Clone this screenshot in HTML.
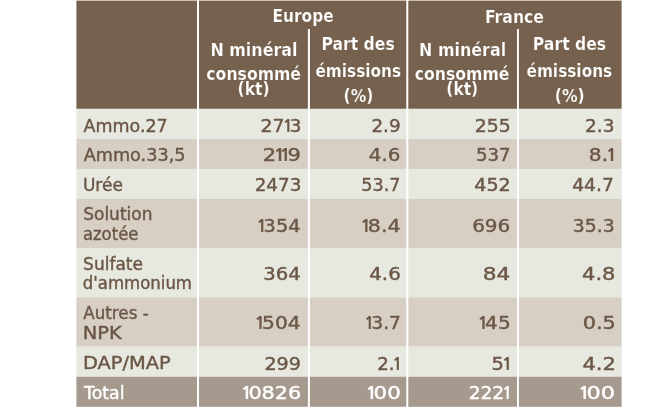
<!DOCTYPE html>
<html lang="fr">
<head>
<meta charset="utf-8">
<title>N minéral consommé et part des émissions</title>
<style>
html,body{margin:0;padding:0;background:#fff;}
body{width:672px;height:410px;overflow:hidden;}
svg{display:block;}
text{font-family:"DejaVu Sans","Liberation Sans",sans-serif;}
.h{font-weight:bold;font-size:17.3px;fill:#fff;stroke:#75614d;stroke-width:0.2px;}
.l,.n{font-size:17.4px;fill:#6b5746;stroke:#6b5746;stroke-width:0.4;}
.n{text-anchor:end;font-size:17.3px;}
.o{font-family:"NanumGothic","DejaVu Sans",sans-serif;font-weight:bold;font-size:17.1px;stroke-width:0.1;}
.w{fill:#fff;stroke:#fff;}
</style>
</head>
<body>
<svg width="672" height="410" viewBox="0 0 672 410">
<rect x="60" y="0.0" width="580" height="410.0" fill="#75614d"/>
<rect x="60" y="108.7" width="580" height="301.3" fill="#e7e8e0"/>
<rect x="60" y="139.0" width="580" height="271.0" fill="#d7cfc3"/>
<rect x="60" y="168.9" width="580" height="241.1" fill="#e7e8e0"/>
<rect x="60" y="198.9" width="580" height="211.1" fill="#d7cfc3"/>
<rect x="60" y="248.1" width="580" height="161.9" fill="#e7e8e0"/>
<rect x="60" y="297.6" width="580" height="112.4" fill="#d7cfc3"/>
<rect x="60" y="346.3" width="580" height="63.7" fill="#e7e8e0"/>
<rect x="60" y="376.8" width="580" height="33.2" fill="#a6998e"/>
<rect x="0" y="0" width="76.4" height="410" fill="#fff"/>
<rect x="621.6" y="0" width="50.4" height="410" fill="#fff"/>
<rect x="0" y="0" width="672" height="0.6" fill="#fff"/>
<rect x="0" y="406.8" width="672" height="3.2" fill="#fff"/>
<rect x="197.0" y="0.0" width="2.0" height="407.0" fill="#fff"/>
<rect x="406.3" y="0.0" width="2.0" height="407.0" fill="#fff"/>
<rect x="307.9" y="29.0" width="2.0" height="378.0" fill="#fff"/>
<rect x="517.0" y="29.0" width="1.9" height="378.0" fill="#fff"/>
<text class="h" x="272.5" y="22.4" textLength="61.2" lengthAdjust="spacingAndGlyphs">Europe</text>
<text class="h" x="484.9" y="22.6" textLength="59.1" lengthAdjust="spacingAndGlyphs">France</text>
<text class="h" x="210.4" y="56.0" textLength="87.1" lengthAdjust="spacingAndGlyphs">N minéral</text>
<text class="h" x="206.3" y="79.6" textLength="94.7" lengthAdjust="spacingAndGlyphs">consommé</text>
<text class="h" x="237.6" y="95.3" textLength="32.1" lengthAdjust="spacingAndGlyphs">(kt)</text>
<text class="h" x="419.1" y="56.0" textLength="87.0" lengthAdjust="spacingAndGlyphs">N minéral</text>
<text class="h" x="414.7" y="79.6" textLength="94.8" lengthAdjust="spacingAndGlyphs">consommé</text>
<text class="h" x="446.3" y="95.3" textLength="31.9" lengthAdjust="spacingAndGlyphs">(kt)</text>
<text class="h" x="321.4" y="49.6" textLength="73.3" lengthAdjust="spacingAndGlyphs">Part des</text>
<text class="h" x="315.4" y="76.6" textLength="85.7" lengthAdjust="spacingAndGlyphs">émissions</text>
<text class="h" x="343.6" y="102.4" textLength="29.8" lengthAdjust="spacingAndGlyphs">(%)</text>
<text class="h" x="532.8" y="49.6" textLength="73.4" lengthAdjust="spacingAndGlyphs">Part des</text>
<text class="h" x="526.5" y="76.6" textLength="85.7" lengthAdjust="spacingAndGlyphs">émissions</text>
<text class="h" x="554.8" y="102.4" textLength="29.9" lengthAdjust="spacingAndGlyphs">(%)</text>
<text class="l" x="83.5" y="131.5" textLength="84.2" lengthAdjust="spacingAndGlyphs">Ammo.27</text>
<text class="l" x="83.7" y="161.3" textLength="101.8" lengthAdjust="spacingAndGlyphs">Ammo.33,5</text>
<text class="l" x="82.9" y="191.3" textLength="40.0" lengthAdjust="spacingAndGlyphs">Urée</text>
<text class="l" x="83.2" y="220.4" textLength="69.3" lengthAdjust="spacingAndGlyphs">Solution</text>
<text class="l" x="82.9" y="240.1" textLength="55.5" lengthAdjust="spacingAndGlyphs">azotée</text>
<text class="l" x="83.1" y="270.0" textLength="59.9" lengthAdjust="spacingAndGlyphs">Sulfate</text>
<text class="l" x="82.8" y="289.2" textLength="109.2" lengthAdjust="spacingAndGlyphs">d'ammonium</text>
<text class="l" x="83.3" y="319.1" textLength="65.4" lengthAdjust="spacingAndGlyphs">Autres -</text>
<text class="l" x="82.8" y="338.5" textLength="39.0" lengthAdjust="spacingAndGlyphs">NPK</text>
<text class="l" x="82.9" y="369.1" textLength="87.8" lengthAdjust="spacingAndGlyphs">DAP/MAP</text>
<text class="l w" x="84.0" y="398.9" textLength="40.6" lengthAdjust="spacingAndGlyphs">Total</text>
<text class="n" transform="translate(301.6 131.5) scale(1.089 1)">27<tspan class="o" dx="-2.20">1</tspan><tspan dx="-3.50">3</tspan></text>
<text class="n" transform="translate(400.6 131.5) scale(1.062 1)">2.9</text>
<text class="n" transform="translate(510.7 131.5) scale(1.092 1)">255</text>
<text class="n" transform="translate(614.5 131.5) scale(1.069 1)">2.3</text>
<text class="n" transform="translate(300.8 161.3) scale(1.218 1)">2<tspan class="o" dx="-2.20">1</tspan><tspan class="o" dx="-5.70">1</tspan><tspan dx="-3.50">9</tspan></text>
<text class="n" transform="translate(400.4 161.3) scale(1.147 1)">4.6</text>
<text class="n" transform="translate(510.5 161.3) scale(1.048 1)">537</text>
<text class="n" transform="translate(617.6 161.3) scale(1.170 1)">8.<tspan class="o" dx="-2.20">1</tspan></text>
<text class="n" transform="translate(301.4 191.3) scale(1.062 1)">2473</text>
<text class="n" transform="translate(400.5 191.3) scale(1.017 1)">53.7</text>
<text class="n" transform="translate(510.7 191.3) scale(1.105 1)">452</text>
<text class="n" transform="translate(613.9 191.3) scale(1.083 1)">44.7</text>
<text class="n" transform="translate(302.9 231.6) scale(1.116 1)"><tspan class="o" dx="-2.20">1</tspan><tspan dx="-3.50">3</tspan>54</text>
<text class="n" transform="translate(403.1 231.6) scale(1.186 1)"><tspan class="o" dx="-2.20">1</tspan><tspan dx="-3.50">8</tspan>.4</text>
<text class="n" transform="translate(510.3 231.6) scale(1.157 1)">696</text>
<text class="n" transform="translate(614.6 231.6) scale(1.086 1)">35.3</text>
<text class="n" transform="translate(300.6 280.4) scale(1.134 1)">364</text>
<text class="n" transform="translate(400.8 280.4) scale(1.148 1)">4.6</text>
<text class="n" transform="translate(510.4 280.4) scale(1.254 1)">84</text>
<text class="n" transform="translate(615.5 280.4) scale(1.218 1)">4.8</text>
<text class="n" transform="translate(303.2 329.4) scale(1.168 1)"><tspan class="o" dx="-2.20">1</tspan><tspan dx="-3.50">5</tspan>04</text>
<text class="n" transform="translate(403.4 329.4) scale(1.083 1)"><tspan class="o" dx="-2.20">1</tspan><tspan dx="-3.50">3</tspan>.7</text>
<text class="n" transform="translate(513.3 329.4) scale(1.164 1)"><tspan class="o" dx="-2.20">1</tspan><tspan dx="-3.50">4</tspan>5</text>
<text class="n" transform="translate(615.8 329.4) scale(1.204 1)">0.5</text>
<text class="n" transform="translate(300.9 369.5) scale(1.104 1)">299</text>
<text class="n" transform="translate(403.0 369.5) scale(1.050 1)">2.<tspan class="o" dx="-2.20">1</tspan></text>
<text class="n" transform="translate(513.1 369.5) scale(1.129 1)">5<tspan class="o" dx="-2.20">1</tspan></text>
<text class="n" transform="translate(616.1 369.5) scale(1.226 1)">4.2</text>
<text class="n w" transform="translate(303.9 398.9) scale(1.201 1)"><tspan class="o" dx="-2.20">1</tspan><tspan dx="-3.50">0</tspan>826</text>
<text class="n w" transform="translate(403.5 398.9) scale(1.236 1)"><tspan class="o" dx="-2.20">1</tspan><tspan dx="-3.50">0</tspan>0</text>
<text class="n w" transform="translate(513.0 398.9) scale(1.078 1)">222<tspan class="o" dx="-2.20">1</tspan></text>
<text class="n w" transform="translate(617.9 398.9) scale(1.297 1)"><tspan class="o" dx="-2.20">1</tspan><tspan dx="-3.50">0</tspan>0</text>
</svg>
</body>
</html>
